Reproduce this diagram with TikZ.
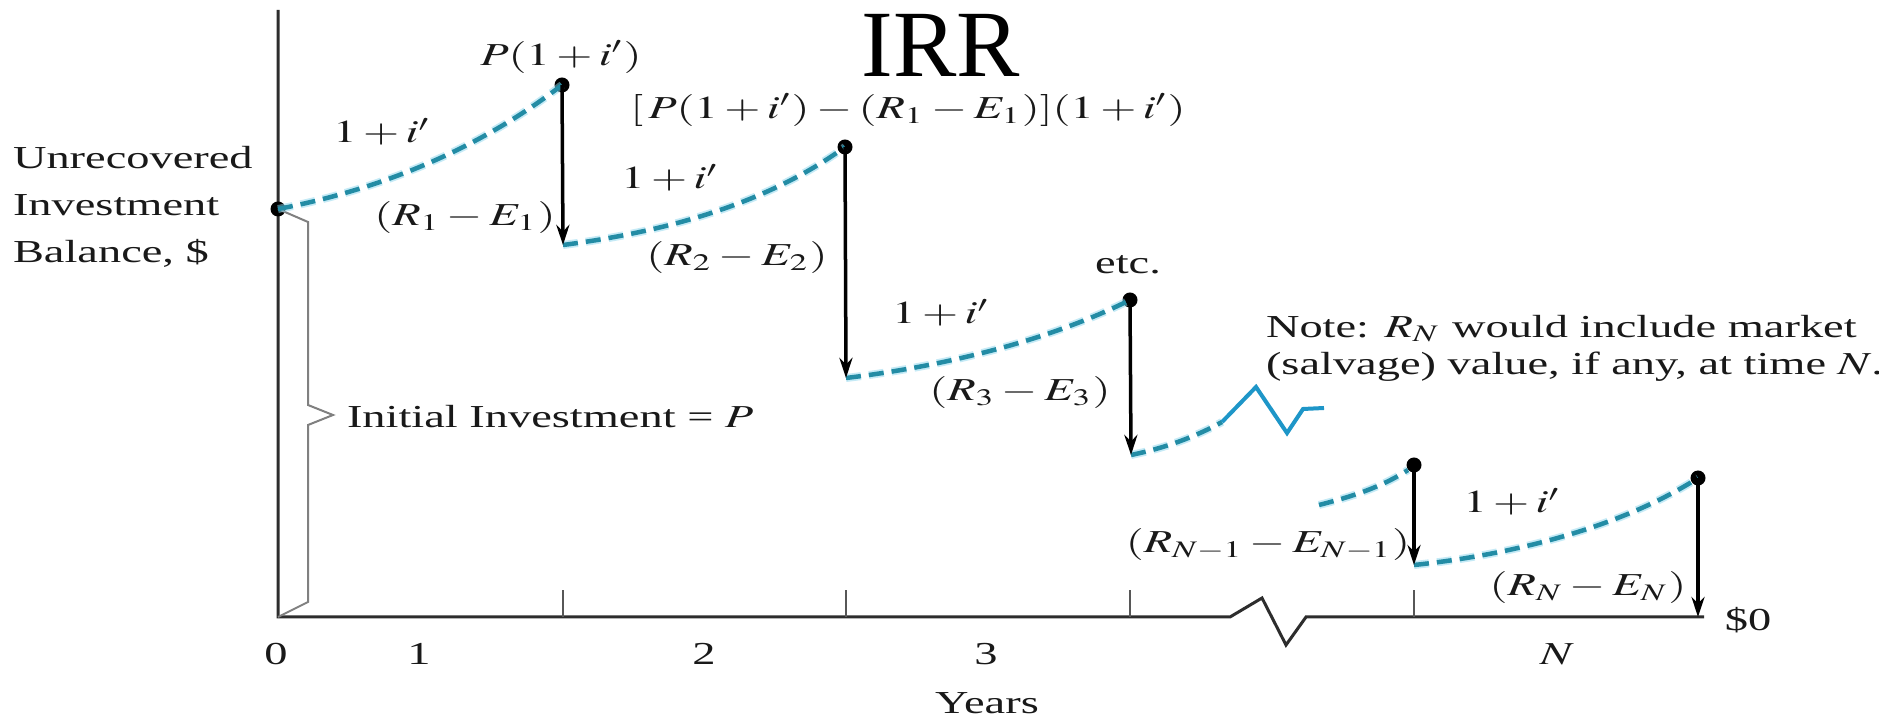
\documentclass[tikz,border=0pt]{standalone}
\usepackage{mathptmx}
\usepackage[no-math]{fontspec}
\setmainfont{Liberation Serif}
\usetikzlibrary{arrows.meta}
\definecolor{axisgray}{RGB}{45,45,45}
\definecolor{tealdash}{RGB}{35,140,165}
\definecolor{cyanhalo}{RGB}{140,215,238}
\definecolor{zigblue}{RGB}{30,150,200}
\definecolor{txtcol}{RGB}{25,25,25}
\newcommand\lblfont{\fontsize{9.1}{11}\selectfont}
\begin{document}
\begin{tikzpicture}[x=0.01cm,y=-0.01cm,
  lbl/.style={font=\lblfont, text=txtcol, xscale=1.45, inner sep=0pt},
  axisline/.style={draw=axisgray, line width=0.03cm},
  tickline/.style={draw=axisgray!80, line width=0.018cm},
  arr/.style={draw=black, line width=0.035cm, -{Stealth[length=0.2cm,width=0.13cm]}},
  dot/.style={circle, fill=black, inner sep=0pt, minimum size=0.15cm},
  growth/.style={draw=tealdash, line width=0.045cm, dash pattern=on 0.15cm off 0.08cm},
  halo/.style={draw=cyanhalo, line width=0.08cm, dash pattern=on 0.15cm off 0.08cm, opacity=0.5},
  zig/.style={draw=zigblue, line width=0.04cm, line join=miter},
  bracket/.style={draw=gray, line width=0.02cm}
]
\useasboundingbox (0,0) rectangle (1879,725);
\fill[white] (0,0) rectangle (1879,725);

% title
\node[font=\fontsize{27}{29}\selectfont, text=black, inner sep=0pt, text depth=0pt, anchor=base] (title) at (941,77) {IRR};

% axes
\coordinate (origin) at (278,617);
\coordinate (ytop) at (278,10);
\coordinate (xend) at (1704,617);
\coordinate (zb1) at (1230,617);
\coordinate (zb2) at (1262,598);
\coordinate (zb3) at (1286,645);
\coordinate (zb4) at (1306,617);
\draw[axisline] (ytop) -- (origin) -- (zb1) -- (zb2) -- (zb3) -- (zb4) -- (xend);

% ticks
\foreach \tx [count=\k] in {563,846,1130,1414} {
  \coordinate (tb\k) at (\tx,617);
  \coordinate (tt\k) at (\tx,590);
  \draw[tickline] (tb\k) -- (tt\k);
}

% tick labels
\node[lbl] (t0) at (276,654) {0};
\node[lbl] (t1) at (419,654) {1};
\node[lbl] (t2) at (704,654) {2};
\node[lbl] (t3) at (986,654) {3};
\node[lbl] (tN) at (1557,654) {$N$};
\node[lbl] (years) at (987,703) {Years};
\node[lbl] (zero) at (1748,620) {\$0};

% y label
\node[lbl, anchor=west, align=left, font=\fontsize{9.1}{13.4}\selectfont] (ylab) at (12,207) {Unrecovered\\Investment\\Balance, \$};

% points
\node[dot] (s0) at (278,209) {};
\node[dot] (d1) at (562,85) {};
\node[dot] (d2) at (845,147) {};
\node[dot] (d3) at (1130,300) {};
\node[dot] (d4) at (1414,465) {};
\node[dot] (d5) at (1698,478) {};
\coordinate (l1) at (563,245);
\coordinate (l2) at (846,378);
\coordinate (l3) at (1131,455);
\coordinate (l4) at (1414,565);
\coordinate (l5) at (1698,617);

% initial investment bracket
\coordinate (b1) at (308,222);
\coordinate (b2) at (308,405);
\coordinate (b3) at (333,415);
\coordinate (b4) at (308,425);
\coordinate (b5) at (308,602);
\draw[bracket] (s0.center) -- (b1) -- (b2) -- (b3) -- (b4) -- (b5) -- (origin);
\node[lbl, anchor=west] (initinv) at (346,417) {Initial Investment = $P$};

% growth curves
\foreach \st in {halo,growth} {
  \draw[\st] (s0.center) .. controls (378,190) and (478,150) .. (d1.center);
  \draw[\st] (l1) .. controls (663,232) and (765,205) .. (d2.center);
  \draw[\st] (l2) .. controls (946,366) and (1050,340) .. (d3.center);
  \draw[\st] (l3) .. controls (1165,448) and (1195,437) .. (1222,422);
  \draw[\st] (1319,505) .. controls (1350,497) and (1380,488) .. (1408,470);
  \draw[\st] (l4) .. controls (1510,555) and (1620,528) .. (d5.center);
}
% break in the curve
\coordinate (c1) at (1222,422);
\coordinate (c2) at (1256,387);
\coordinate (c3) at (1287,433);
\coordinate (c4) at (1303,409);
\coordinate (c5) at (1324,408);
\draw[zig] (c1) -- (c2) -- (c3) -- (c4) -- (c5);

% arrows
\draw[arr] (d1.center) -- (l1);
\draw[arr] (d2.center) -- (l2);
\draw[arr] (d3.center) -- (l3);
\draw[arr] (d4.center) -- (l4);
\draw[arr] (d5.center) -- (l5);

% labels
\node[lbl] (pl) at (561,57) {$P(1 + i')$};
\node[lbl] (g1) at (382,132) {$1 + i'$};
\node[lbl] (r1) at (465,218) {$(R_1 - E_1)$};
\node[lbl] (bigl) at (908,110) {$[\,P(1 + i') - (R_1 - E_1)](1 + i')$};
\node[lbl] (g2) at (670,178) {$1 + i'$};
\node[lbl] (r2) at (737,258) {$(R_2 - E_2)$};
\node[lbl] (etc) at (1128,265) {etc.};
\node[lbl] (g3) at (941,313) {$1 + i'$};
\node[lbl] (r3) at (1020,393) {$(R_3 - E_3)$};
\node[lbl] (rn1) at (1268,545) {$(R_{N-1} - E_{N-1})$};
\node[lbl] (g4) at (1512,502) {$1 + i'$};
\node[lbl] (rn) at (1588,588) {$(R_N - E_N)$};
\node[lbl, anchor=west, align=left, font=\fontsize{9.1}{10.5}\selectfont] (note) at (1265,348) {Note: $R_N$ would include market\\(salvage) value, if any, at time $N$.};
\end{tikzpicture}
\end{document}
